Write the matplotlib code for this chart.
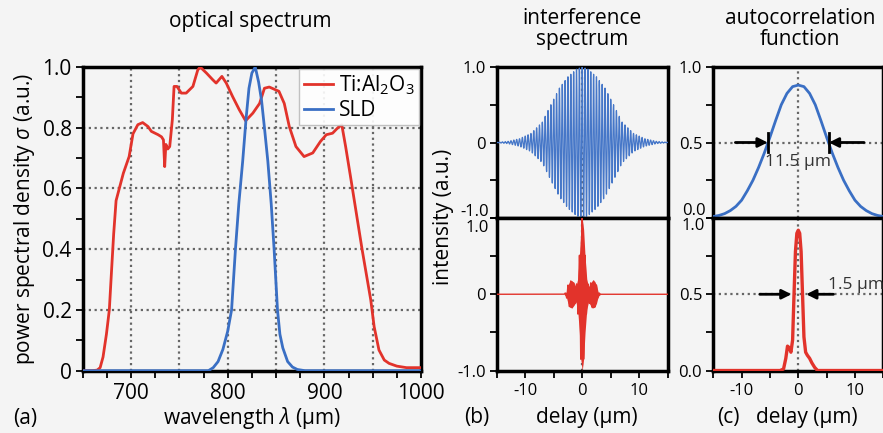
import numpy as np
import matplotlib.pyplot as plt
from matplotlib.transforms import offset_copy

plt.rcParams['font.family'] = ['Open Sans', 'DejaVu Sans']
plt.rcParams['mathtext.fontset'] = 'custom'
plt.rcParams['mathtext.rm'] = 'Open Sans'
plt.rcParams['mathtext.it'] = 'Open Sans:italic'

# (a) optical spectrum
ti_wl = [650, 660, 665, 668, 671, 674.5, 677.5, 680, 682, 684.5, 687, 692, 698, 702, 707, 712,
         717.5, 721, 728, 731.5, 733.5, 734.8, 736, 738, 740, 742.7, 744.5, 747.5, 752, 757,
         764, 769, 771.5, 778, 784.5, 788, 794, 798.5, 805, 812, 818.5, 826, 833, 838, 843,
         853, 858.5, 863.7, 870.6, 879, 888, 896, 902, 908.5, 914, 918, 922, 927, 932, 939,
         948, 951.5, 956.5, 962, 967, 975, 985, 1000]
ti_psd = [0, 0, 0.002, 0.01, 0.045, 0.12, 0.2, 0.34, 0.45, 0.56, 0.59, 0.65, 0.705, 0.78, 0.81, 0.817,
          0.804, 0.788, 0.777, 0.77, 0.76, 0.672, 0.745, 0.73, 0.738, 0.826, 0.936, 0.936, 0.914, 0.914,
          0.936, 0.99, 1.0, 0.98, 0.958, 0.947, 0.969, 0.947, 0.903, 0.859, 0.823, 0.848, 0.88, 0.93, 0.934,
          0.92, 0.88, 0.804, 0.738, 0.705, 0.717, 0.755, 0.777, 0.782, 0.80, 0.81, 0.738, 0.64, 0.54, 0.40,
          0.233, 0.145, 0.068, 0.035, 0.024, 0.015, 0.01, 0.01]
sld_wl = [650, 780, 785, 790, 795, 800, 804, 808, 811.5, 815.5, 819, 822, 825, 828.5, 832, 835,
          838, 841.5, 845, 848, 851.5, 854, 857, 862, 867, 872, 880, 1000]
sld_psd = [0, 0, 0.01, 0.03, 0.07, 0.13, 0.2, 0.4, 0.55, 0.69, 0.83, 0.93, 0.98, 1.0, 0.95, 0.89,
           0.80, 0.69, 0.55, 0.40, 0.2, 0.12, 0.075, 0.03, 0.012, 0.004, 0, 0]

# (b) interference envelopes
sld_env_delay = [-15, -13, -11, -9, -7, -5.5, -4, -2.5, -1, 0, 1, 2.5, 4, 5.5, 7, 9, 11, 13, 15]
sld_env = [0.003, 0.015, 0.05, 0.12, 0.27, 0.5, 0.72, 0.87, 0.97, 1.0, 0.97, 0.87, 0.72, 0.5,
           0.27, 0.12, 0.05, 0.015, 0.003]
ti_env_delay = [-15, -3.2, -2.8, -2.5, -2.2, -1.8, -1.4, -1.1, -0.8, -0.5, -0.25, 0, 0.25, 0.5,
                0.8, 1.1, 1.4, 1.8, 2.2, 2.5, 2.8, 3.2, 15]
ti_env = [0, 0, 0.03, 0.12, 0.17, 0.18, 0.14, 0.1, 0.2, 0.5, 0.85, 1.0, 0.85, 0.5, 0.2, 0.1,
          0.14, 0.18, 0.17, 0.12, 0.03, 0, 0]
fringe_period = 0.5

# (c) autocorrelation
sld_ac_delay = [-15, -14, -13, -12, -11, -10, -9, -8, -7, -6, -5, -4, -3, -2, -1, 0,
                1, 2, 3, 4, 5, 6, 7, 8, 9, 10, 11, 12, 13, 14, 15]
sld_ac = [0.01, 0.017, 0.029, 0.049, 0.077, 0.118, 0.18, 0.25, 0.335, 0.43, 0.535, 0.645, 0.75,
          0.825, 0.87, 0.88, 0.87, 0.825, 0.75, 0.645, 0.535, 0.43, 0.335, 0.25, 0.18, 0.118,
          0.077, 0.049, 0.029, 0.017, 0.01]
ti_ac_delay = [-15, -3.2, -2.6, -2.2, -1.9, -1.6, -1.3, -1.0, -0.75, -0.5, -0.25, 0, 0.25, 0.5,
               0.75, 1.0, 1.3, 1.6, 2.0, 2.4, 2.9, 3.4, 15]
ti_ac = [0, 0, 0.01, 0.08, 0.16, 0.15, 0.12, 0.2, 0.5, 0.78, 0.9, 0.92, 0.9, 0.78, 0.5, 0.22,
         0.12, 0.1, 0.08, 0.05, 0.02, 0, 0]

RED = '#e2332b'
BLUE = '#3a6fc4'
BG = '#f4f4f4'
GRID = dict(color='#666666', lw=1.6, ls=(0, (1, 1.6)), zorder=1)
FS = 15
TS = 12

fig = plt.figure(figsize=(8.83, 4.33), dpi=100, facecolor=BG)


def style(ax, size):
    ax.set_facecolor(BG)
    for s in ax.spines.values():
        s.set_linewidth(2.5)
    ax.tick_params(which='both', direction='out', width=1.3, length=5, labelsize=size)
    ax.tick_params(axis='y', pad=3)
    ax.tick_params(axis='x', pad=4)


def edge_label(ax, y, txt, dy):
    # y tick label nudged up/down so stacked panels do not collide
    tr = offset_copy(ax.get_yaxis_transform(), fig=fig, x=-8, y=dy, units='dots')
    ax.text(0, y, txt, transform=tr, ha='right', va='center', fontsize=TS, clip_on=False)


# ---- (a)
ax = fig.add_axes([0.0937, 0.1439, 0.3831, 0.7014])
style(ax, FS)
ax.plot(ti_wl, ti_psd, color=RED, lw=2, label='Ti:Al$_2$O$_3$', zorder=3)
ax.plot(sld_wl, sld_psd, color=BLUE, lw=2, label='SLD', zorder=3)
for g in [700, 750, 800, 850, 900, 950]:
    ax.axvline(g, **GRID)
for g in [0.2, 0.4, 0.6, 0.8]:
    ax.axhline(g, **GRID)
ax.set_xlim(650, 1000)
ax.set_ylim(0, 1)
ax.set_xticks([700, 800, 900, 1000])
ax.set_xticks(np.arange(650, 1001, 25), minor=True)
ax.set_yticks([0, 0.2, 0.4, 0.6, 0.8, 1.0])
ax.set_yticklabels(['0', '0.2', '0.4', '0.6', '0.8', '1.0'])
ax.set_yticks(np.arange(0, 1.01, 0.1), minor=True)
ax.set_ylabel('power spectral density $\\it{\\sigma}$ (a.u.)', fontsize=FS, labelpad=4)
leg = ax.legend(loc='upper right', fontsize=FS, handlelength=1.4, handletextpad=0.3,
                labelspacing=0.15, borderpad=0.2, borderaxespad=0.1, fancybox=False,
                framealpha=0.9)
leg.get_frame().set_edgecolor('#bbbbbb')
leg.get_frame().set_linewidth(1)
fig.text(0.283, 0.95, 'optical spectrum', ha='center', va='center', fontsize=FS)
fig.text(0.285, 0.034, 'wavelength $\\lambda$ (µm)', ha='center', va='center', fontsize=FS)
fig.text(0.028, 0.034, '(a)', ha='center', va='center', fontsize=FS)

# ---- (b)
x = np.linspace(-15, 15, 12000)
carrier = np.cos(2 * np.pi * x / fringe_period)
bt = fig.add_axes([0.5625, 0.4965, 0.1937, 0.3488])
bb = fig.add_axes([0.5625, 0.1443, 0.1937, 0.3522])
bt.plot(x, np.interp(x, sld_env_delay, sld_env) * carrier, color='#4677c8', lw=0.9, zorder=3)
ti_e = np.interp(x, ti_env_delay, ti_env)
bb.fill_between(x, -ti_e, ti_e, color=RED, lw=0, zorder=3)
bb.plot(x, ti_e * carrier, color=RED, lw=1.0, zorder=3)
for a in (bt, bb):
    style(a, TS)
    a.set_xlim(-15, 15)
    a.set_ylim(-1, 1)
    a.set_yticks([-1, 0, 1])
    a.set_yticks([-0.5, 0.5], minor=True)
    a.set_xticks([-10, 0, 10])
    a.set_xticklabels(['-10', '0', '10'])
    a.set_xticks([-15, -5, 5, 15], minor=True)
    a.axvline(0, **GRID)
bt.set_yticklabels(['', '0', '1.0'])
bb.set_yticklabels(['-1.0', '0', ''])
edge_label(bt, -1, '-1.0', 6)
edge_label(bb, 1, '1.0', -10)
bt.tick_params(axis='x', which='both', bottom=False, labelbottom=False)
fig.text(0.502, 0.5, 'intensity (a.u.)', rotation=90, ha='center', va='center', fontsize=FS)
fig.text(0.659, 0.933, 'interference\nspectrum', ha='center', va='center', fontsize=FS,
         linespacing=0.95)
fig.text(0.665, 0.036, 'delay (µm)', ha='center', va='center', fontsize=FS)
fig.text(0.540, 0.036, '(b)', ha='center', va='center', fontsize=FS)

# ---- (c)
ct = fig.add_axes([0.8078, 0.4965, 0.1925, 0.3488])
cb = fig.add_axes([0.8078, 0.1443, 0.1925, 0.3522])
ct.plot(sld_ac_delay, sld_ac, color=BLUE, lw=2, zorder=3)
cb.plot(ti_ac_delay, ti_ac, color=RED, lw=2.4, zorder=3)
for a in (ct, cb):
    style(a, TS)
    a.set_xlim(-15, 15)
    a.set_ylim(0, 1)
    a.set_yticks([0, 0.5, 1])
    a.set_yticks([0.25, 0.75], minor=True)
    a.set_xticks([-10, 0, 10])
    a.set_xticklabels(['-10', '0', '10'])
    a.set_xticks([-15, -5, 5, 15], minor=True)
    a.axvline(0, **GRID)
    a.axhline(0.5, **GRID)
ct.set_yticklabels(['', '0.5', '1.0'])
cb.set_yticklabels(['0.0', '0.5', ''])
edge_label(ct, 0, '0.0', 7)
edge_label(cb, 1, '1.0', -8)
ct.tick_params(axis='x', which='both', bottom=False, labelbottom=False)

arw = dict(arrowstyle='-|>', color='black', lw=2, mutation_scale=14, shrinkA=0, shrinkB=0)
ct.annotate('', xy=(-5.4, 0.5), xytext=(-11.1, 0.5), arrowprops=arw, zorder=4)
ct.annotate('', xy=(5.4, 0.5), xytext=(11.6, 0.5), arrowprops=arw, zorder=4)
ct.plot([-5.4, -5.4], [0.44, 0.56], color='black', lw=2, zorder=4)
ct.plot([5.4, 5.4], [0.44, 0.56], color='black', lw=2, zorder=4)
ct.text(0, 0.37, '11.5 µm', ha='center', va='center', fontsize=12.5, color='#333333', zorder=5)
cb.annotate('', xy=(-1.2, 0.5), xytext=(-6.8, 0.5), arrowprops=arw, zorder=4)
cb.annotate('', xy=(1.4, 0.5), xytext=(6.2, 0.5), arrowprops=arw, zorder=4)
cb.text(10.2, 0.51, '1.5 µm', ha='center', va='bottom', fontsize=12.5, color='#333333', zorder=5)

fig.text(0.906, 0.933, 'autocorrelation\nfunction', ha='center', va='center', fontsize=FS,
         linespacing=0.95)
fig.text(0.914, 0.036, 'delay (µm)', ha='center', va='center', fontsize=FS)
fig.text(0.825, 0.036, '(c)', ha='center', va='center', fontsize=FS)

fig.savefig('out.png', dpi=100, facecolor=BG)
